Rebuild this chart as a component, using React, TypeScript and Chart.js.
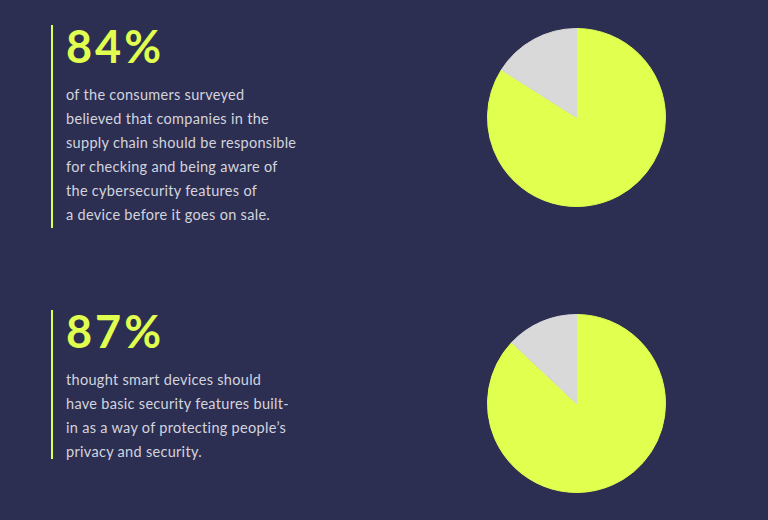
import { useEffect, useRef } from 'react'
import { Chart, registerables, type ChartConfiguration } from 'chart.js'

Chart.register(...registerables)

const BG = '#2d2f52'
const LIME = '#e1ff4f'
const GREY = '#d9d9d9'

const sliceLabels = ['Agree', 'Other']
const headlines = ['84%', '87%']
const agreeValues = [84, 87]
const paragraphs = [
  [
    'of the consumers surveyed',
    'believed that companies in the',
    'supply chain should be responsible',
    'for checking and being aware of',
    'the cybersecurity features of',
    'a device before it goes on sale.',
  ],
  [
    'thought smart devices should',
    'have basic security features built-',
    'in as a way of protecting people\u2019s',
    'privacy and security.',
  ],
]

function StatPie({ value }: { value: number }) {
  const canvasRef = useRef<HTMLCanvasElement | null>(null)
  const chartRef = useRef<Chart | null>(null)

  useEffect(() => {
    if (!canvasRef.current) return
    const config: ChartConfiguration<'pie'> = {
      type: 'pie',
      data: {
        labels: sliceLabels,
        datasets: [
          {
            data: [value, 100 - value],
            backgroundColor: [LIME, GREY],
            // same-colour borders hide the anti-aliased seam between slices
            borderColor: [LIME, GREY],
            borderWidth: 1,
          },
        ],
      },
      options: {
        responsive: false,
        animation: false,
        layout: { padding: 0 },
        plugins: { legend: { display: false }, tooltip: { enabled: false } },
      },
    }
    chartRef.current = new Chart(canvasRef.current, config)
    return () => chartRef.current?.destroy()
  }, [value])

  return (
    <canvas ref={canvasRef} width={179} height={179} role="img" aria-label={`${value}% agree`} />
  )
}

// block tops, bar extents and pie tops for the two stats
const blockTop = [24, 309]
const barHeight = [203, 149]
const pieTop = [28, 314]

export default function App() {
  return (
    <div
      style={{
        position: 'fixed',
        inset: 0,
        width: 768,
        height: 520,
        background: BG,
        fontFamily: 'Lato, "Noto Sans", sans-serif',
        overflow: 'hidden',
      }}
    >
      {headlines.map((h, i) => (
        <div key={h}>
          <div
            style={{
              position: 'absolute',
              left: 51,
              top: blockTop[i] + 1,
              width: 1.5,
              height: barHeight[i],
              background: LIME,
            }}
          />
          <div style={{ position: 'absolute', left: 66, top: blockTop[i] }}>
            <div
              style={{
                color: LIME,
                fontSize: 45,
                fontWeight: 700,
                lineHeight: '44px',
                letterSpacing: 3,
              }}
            >
              {h}
            </div>
            <div
              style={{
                marginTop: 15,
                color: '#d3d4de',
                fontSize: 14.5,
                lineHeight: '24px',
                letterSpacing: 0.3,
                whiteSpace: 'nowrap',
              }}
            >
              {paragraphs[i].map(line => (
                <div key={line}>{line}</div>
              ))}
            </div>
          </div>
          <div style={{ position: 'absolute', left: 487, top: pieTop[i] }}>
            <StatPie value={agreeValues[i]} />
          </div>
        </div>
      ))}
    </div>
  )
}
